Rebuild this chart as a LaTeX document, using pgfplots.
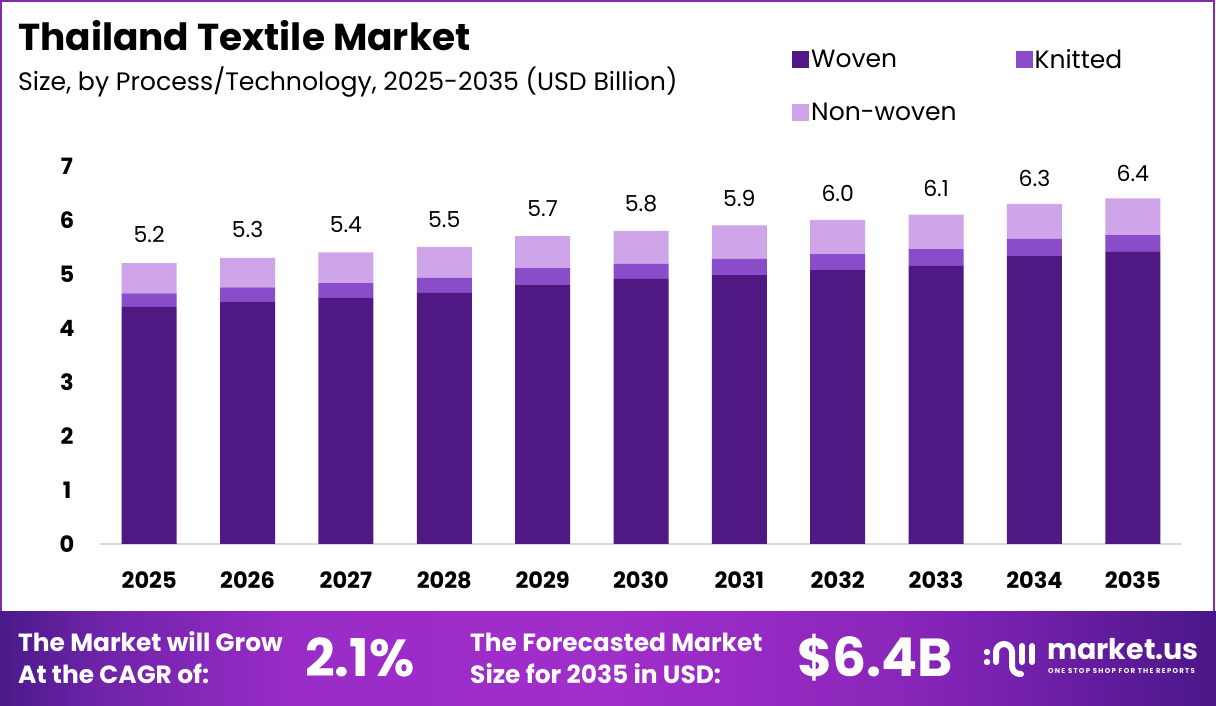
\documentclass[border=0pt]{standalone}
\usepackage{fontspec}
\setmainfont{Poppins}
\usepackage{pgfplots}
\usepackage{pgfplotstable}
\pgfplotsset{compat=1.18}

\definecolor{woven}{HTML}{4F1883}
\definecolor{knitted}{HTML}{8A4CC9}
\definecolor{nonwoven}{HTML}{CFA5E9}
\definecolor{framepurple}{HTML}{7E2BAE}
\definecolor{baseline}{HTML}{D9D9D9}

% footer band gradient (dark edges, bright magenta-purple centre)
\pgfdeclarehorizontalshading{footerband}{100bp}{%
  rgb(0bp)=(0.29,0.10,0.54);
  rgb(25bp)=(0.29,0.10,0.54);
  rgb(29bp)=(0.43,0.14,0.66);
  rgb(37bp)=(0.60,0.17,0.78);
  rgb(50bp)=(0.63,0.18,0.79);
  rgb(62bp)=(0.54,0.15,0.73);
  rgb(66bp)=(0.47,0.13,0.69);
  rgb(75bp)=(0.29,0.09,0.53);
  rgb(100bp)=(0.29,0.09,0.53)}

% Thailand textile market by process, USD billion
\pgfplotstableread{
idx year woven knitted nonwoven total
0  2025 4.39 0.25 0.56 5.2
1  2026 4.48 0.27 0.55 5.3
2  2027 4.56 0.27 0.57 5.4
3  2028 4.65 0.28 0.57 5.5
4  2029 4.81 0.30 0.59 5.7
5  2030 4.91 0.28 0.61 5.8
6  2031 4.98 0.30 0.62 5.9
7  2032 5.07 0.30 0.63 6.0
8  2033 5.15 0.31 0.64 6.1
9  2034 5.33 0.32 0.65 6.3
10 2035 5.41 0.31 0.68 6.4
}\marketdata

\begin{document}
\begin{tikzpicture}[x=1pt,y=1pt]
% canvas and frame
\path[use as bounding box] (0,0) rectangle (1216,706);
\fill[white] (0,0) rectangle (1216,706);
\draw[framepurple, line width=2.4pt] (1.2,90) -- (1.2,704.8) -- (1213.8,704.8) -- (1213.8,90);

% headings
\node[anchor=base west, inner sep=0pt, font=\fontsize{37.5}{42}\selectfont\bfseries] at (18,655) {Thailand Textile Market};
\node[anchor=base west, inner sep=0pt, font=\fontsize{25.2}{29}\selectfont] at (18,615) {Size, by Process/Technology, 2025-2035 (USD Billion)};

\begin{axis}[
  at={(100pt,162pt)}, anchor=south west,
  scale only axis, width=1082pt, height=378pt,
  xmin=-0.5, xmax=10.5, ymin=0, ymax=7,
  ybar stacked, bar width=55pt,
  xtick=data,
  xticklabels={2025,2026,2027,2028,2029,2030,2031,2032,2033,2034,2035},
  ytick={0,1,2,3,4,5,6,7},
  axis x line*=bottom, axis y line*=left,
  x axis line style={draw=baseline, line width=1.5pt},
  y axis line style={draw=none},
  major tick length=0pt,
  tick label style={font=\fontsize{22.5}{26}\selectfont\bfseries},
  /pgf/number format/assume math mode=true,
  yticklabel style={anchor=center, xshift=-33pt},
  xticklabel style={anchor=north, yshift=-24pt},
  clip=false,
  legend image code/.code={\fill[#1] (-4pt,-8.5pt) rectangle (13pt,8.5pt);},
  legend style={at={(0.6368,1.32)}, anchor=north west, draw=none, fill=none,
    legend columns=2, font=\fontsize{25}{29}\selectfont,
    /tikz/every even column/.append style={column sep=57pt},
    row sep=29pt, cells={anchor=west}},
]
\addplot[fill=woven, draw=none] table[x=idx, y=woven] {\marketdata};
\addplot[fill=knitted, draw=none] table[x=idx, y=knitted] {\marketdata};
\addplot[fill=nonwoven, draw=none,
  point meta=explicit,
  nodes near coords={\pgfmathprintnumber[fixed,fixed zerofill,precision=1,assume math mode=true]{\pgfplotspointmeta}},
  every node near coord/.append style={font=\fontsize{22}{26}\selectfont, text=black, anchor=south, inner sep=0pt, yshift=35pt}
] table[x=idx, y=nonwoven, meta=total] {\marketdata};
\legend{Woven, Knitted, Non-woven}
\end{axis}

% footer band
\shade[shading=footerband] (0,0) rectangle (1216,94);
\begin{scope}[every node/.style={text=white, inner sep=0pt, anchor=base west}]
\node[font=\fontsize{24.9}{29}\selectfont\bfseries] at (18,54) {The Market will Grow};
\node[font=\fontsize{24.9}{29}\selectfont\bfseries] at (18,22) {At the CAGR of:};
\node[font=\fontsize{52}{58}\selectfont\bfseries] at (305,29) {2.1\%};
\node[font=\fontsize{24.9}{29}\selectfont\bfseries] at (470,54) {The Forecasted Market};
\node[font=\fontsize{24.9}{29}\selectfont\bfseries] at (470,22) {Size for 2035 in USD:};
\node[font=\fontsize{53.5}{60}\selectfont\bfseries] at (797,29) {\$6.4B};
\node[font=\fontsize{28.5}{33}\selectfont\bfseries] at (1047,46) {market.us};
\node[font=\fontsize{7}{8}\selectfont\bfseries\addfontfeature{LetterSpace=18}] at (1048,32.5) {ONE STOP SHOP FOR THE REPORTS};
\end{scope}
% logo mark
\begin{scope}[white, line width=6pt, line cap=round]
\fill (987,54) circle (3.2);
\fill (987,44) circle (3.2);
\draw (996,44) -- (996,54) arc[start angle=180, end angle=0, radius=8] -- (1012,40) arc[start angle=180, end angle=270, radius=8] -- (1021,32);
\draw (1022,44) -- (1022,60);
\draw (1032,44) -- (1032,60);
\end{scope}
\end{tikzpicture}
\end{document}
